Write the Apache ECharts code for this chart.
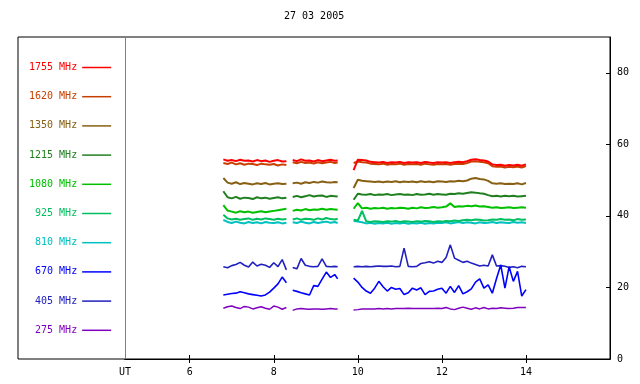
<!doctype html>
<html>
<head>
<meta charset="UTF-8">
<title>27 03 2005</title>
<script src="https://cdn.jsdelivr.net/npm/echarts@6.0.0/dist/echarts.min.js"></script>
<style>
html,body{margin:0;padding:0;background:#fff;}
#main{width:640px;height:384px;}
</style>
</head>
<body>
<div id="main"></div>
<script>
// UT hours; 8.38 and 9.7 are the gaps between the three runs
var hours = [6.8,6.9,7.0,7.1,7.2,7.3,7.4,7.5,7.6,7.7,7.8,7.9,8.0,8.1,8.2,8.3,
  8.38,
  8.45,8.55,8.65,8.75,8.85,8.95,9.05,9.15,9.25,9.35,9.45,9.52,
  9.7,
  9.9,10.0,10.1,10.2,10.3,10.4,10.5,10.6,10.7,10.8,10.9,11.0,11.1,11.2,11.3,11.4,11.5,11.6,11.7,11.8,11.9,
  12.0,12.1,12.2,12.3,12.4,12.5,12.6,12.7,12.8,12.9,13.0,13.1,13.2,13.3,13.4,13.5,13.6,13.7,13.8,13.9,14.0];

var freqNames = ['1755 MHz','1620 MHz','1350 MHz','1215 MHz','1080 MHz','925 MHz','810 MHz','670 MHz','405 MHz','275 MHz'];

var f1755 = [55.8,55.4,55.6,55.3,55.7,55.4,55.5,55.2,55.6,55.3,55.5,55.1,55.4,55.6,55.2,55.3, null,
  55.6,55.3,55.8,55.4,55.5,55.2,55.6,55.3,55.5,55.7,55.4,55.5, null,
  52.8,55.7,55.6,55.5,55.1,55.0,54.9,55.1,54.8,55.0,54.9,55.1,54.8,55.0,54.9,55.0,54.8,55.1,54.9,54.8,
  55.0,54.9,55.0,54.8,55.0,55.1,55.0,55.3,55.7,55.8,55.6,55.5,55.2,54.4,54.2,54.3,54.0,54.2,54.1,54.3,54.0,54.4];
var f1620 = [54.8,54.5,54.9,54.4,54.7,54.3,54.6,54.5,54.2,54.6,54.4,54.3,54.5,54.1,54.4,54.2, null,
  55.0,54.7,55.1,54.8,54.9,54.6,55.0,54.7,54.9,55.1,54.8,54.9, null,
  54.8,55.2,55.0,54.9,54.6,54.5,54.4,54.6,54.3,54.5,54.4,54.6,54.3,54.5,54.4,54.5,54.3,54.6,54.4,54.3,
  54.5,54.4,54.5,54.3,54.5,54.6,54.5,54.8,55.2,55.3,55.1,55.0,54.7,53.9,53.7,53.8,53.5,53.7,53.6,53.8,53.5,53.9];
var f1350 = [50.6,49.3,49.0,49.4,48.9,49.2,49.0,48.8,49.1,48.9,49.2,48.8,49.0,49.1,48.9,49.0, null,
  49.1,49.3,49.0,49.4,49.2,49.5,49.3,49.6,49.4,49.3,49.5,49.4, null,
  47.8,50.1,49.8,49.7,49.6,49.5,49.6,49.4,49.6,49.5,49.7,49.4,49.6,49.5,49.6,49.4,49.7,49.5,49.6,49.4,
  49.7,49.6,49.5,49.7,49.6,49.8,49.7,49.9,50.4,50.6,50.3,50.2,49.8,49.1,49.0,49.1,48.9,49.0,48.9,49.1,48.8,49.2];
var f1215 = [46.9,45.2,44.9,45.3,44.8,45.1,45.0,44.7,45.2,44.9,45.1,44.8,45.0,45.2,44.9,45.1, null,
  45.3,45.6,45.2,45.5,45.8,45.4,45.6,45.7,45.3,45.6,45.5,45.4, null,
  44.5,46.2,46.0,45.9,46.1,45.8,46.0,45.9,46.1,45.8,46.0,46.1,45.9,46.0,45.8,46.1,45.9,46.0,46.2,45.9,
  46.1,46.0,45.9,46.2,46.1,46.3,46.2,46.4,46.6,46.5,46.3,46.2,45.8,45.5,45.6,45.4,45.6,45.5,45.6,45.4,45.5,45.6];
var f1080 = [43.0,41.5,41.2,40.9,41.3,41.0,41.2,40.9,41.1,41.3,41.0,41.2,41.4,41.6,41.8,42.0, null,
  41.4,41.7,41.5,41.9,41.6,41.8,41.7,42.0,41.7,41.9,41.8,41.7, null,
  42.0,43.6,42.1,42.3,42.0,42.2,42.1,42.3,42.0,42.2,42.1,42.3,42.2,42.0,42.3,42.1,42.4,42.2,42.3,42.5,
  42.3,42.4,42.6,43.5,42.5,42.7,42.6,42.8,42.7,42.9,42.6,42.7,42.5,42.3,42.4,42.2,42.3,42.4,42.2,42.3,42.4,42.3];
var f925 = [40.3,39.3,39.0,39.2,38.9,39.1,39.3,38.9,39.2,39.0,39.3,39.1,38.9,39.2,39.0,39.1, null,
  39.0,39.3,38.9,39.2,39.1,38.9,39.3,39.0,39.4,39.1,39.0,39.2, null,
  38.9,38.7,41.4,38.5,38.3,38.5,38.4,38.3,38.5,38.4,38.6,38.3,38.5,38.4,38.3,38.5,38.4,38.6,38.5,38.3,
  38.5,38.4,38.6,38.5,38.7,38.6,38.8,38.9,38.8,39.0,38.9,38.7,38.8,39.0,38.9,39.1,38.9,39.0,38.8,39.1,38.9,39.0];
var f810 = [38.9,38.3,38.0,38.4,38.1,37.9,38.3,38.0,38.2,37.9,38.3,38.1,38.0,38.2,37.9,38.1, null,
  38.2,38.0,38.4,38.1,37.9,38.3,38.0,38.2,38.4,38.1,38.3,38.0, null,
  38.6,38.4,38.2,37.9,38.1,37.8,38.0,37.9,38.1,37.8,38.0,37.9,38.1,37.8,38.0,37.9,38.1,37.8,38.0,37.9,
  38.1,38.0,38.2,37.9,38.1,38.3,38.0,38.2,38.1,37.9,38.2,38.0,38.1,38.3,38.0,38.2,38.1,38.0,38.3,38.1,38.2,38.0];
var f670 = [17.9,18.1,18.3,18.4,18.8,18.5,18.2,18.0,17.8,17.6,17.9,18.7,19.8,21.0,22.9,21.3, null,
  19.2,18.9,18.5,18.2,17.9,20.5,20.3,22.3,24.3,22.8,23.6,22.4, null,
  22.6,21.5,20.0,19.0,18.4,19.8,21.7,20.2,19.0,20.0,19.5,19.7,18.0,18.5,19.8,19.3,19.9,18.0,18.9,19.0,
  19.5,19.8,18.4,20.3,18.6,20.5,18.2,18.8,19.6,21.5,22.4,19.8,20.7,18.4,22.5,26.3,19.8,25.8,21.7,24.5,17.6,19.4];
var f405 = [25.8,25.5,26.1,26.4,27.0,26.2,25.7,27.1,26.0,26.5,26.2,25.6,26.9,25.8,27.8,24.9, null,
  25.6,25.2,28.1,26.2,25.9,25.8,25.9,28.0,25.9,25.8,25.9,25.8, null,
  25.8,25.9,25.8,25.9,25.8,25.9,26.0,25.9,25.9,26.0,25.8,25.9,31.0,25.9,25.8,25.9,26.7,26.9,27.2,26.8,
  27.3,27.0,28.4,31.9,28.2,27.6,27.0,27.3,26.8,26.4,26.0,26.2,26.0,29.1,26.0,26.1,25.9,25.6,25.8,25.5,25.9,25.8];
var f275 = [14.2,14.6,14.8,14.4,14.1,14.7,14.5,14.0,14.3,14.6,14.2,13.9,14.8,14.5,13.9,14.4, null,
  13.6,14.0,14.1,14.0,13.9,14.0,14.0,13.9,14.0,14.1,14.0,14.0, null,
  13.7,13.8,14.0,14.0,14.0,14.0,14.1,14.0,14.1,14.0,14.1,14.1,14.1,14.2,14.1,14.1,14.1,14.1,14.1,14.1,
  14.2,14.1,14.4,14.0,13.8,14.2,14.5,14.2,13.9,14.3,14.0,14.4,14.0,14.2,14.1,14.3,14.2,14.1,14.2,14.4,14.4,14.4];

var yTicks = [0, 20, 40, 60, 80];
var xTicks = [6, 8, 10, 12, 14];

var allVals = [f1755, f1620, f1350, f1215, f1080, f925, f810, f670, f405, f275];
var colors = ['#ff0000','#c84000','#876014','#208020','#00c000','#00bf60','#00c0c0','#0000ff','#2020c0','#8000c0'];
var widths = [2, 2, 2, 2, 2, 2, 2, 1.6, 1.6, 1.5];
var mono = 'DejaVu Sans Mono';
var utStart = 4.46;

var series = [];
// draw lowest frequency first so 1755 sits on top
for (var k = allVals.length - 1; k >= 0; k--) {
  var vals = allVals[k];
  series.push({
    name: freqNames[k],
    type: 'line',
    symbol: 'none',
    showSymbol: false,
    xAxisIndex: 0,
    yAxisIndex: 0,
    color: colors[k],
    lineStyle: { width: widths[k], color: colors[k] },
    data: hours.map(function (h, i) { return [h, vals[i] == null ? '-' : vals[i]]; })
  });
}

var myChart = echarts.init(document.getElementById('main'));
var option = {
  animation: false,
  backgroundColor: '#fff',
  title: {
    text: '27 03 2005',
    left: 284, top: 11, padding: 0,
    textStyle: { fontFamily: mono, fontSize: 10, fontWeight: 'normal', color: '#000' }
  },
  legend: {
    orient: 'vertical',
    left: 29, top: 53, padding: 0,
    align: 'right',
    selectedMode: false,
    icon: 'rect',
    itemWidth: 29, itemHeight: 1.5, itemGap: 0.2,
    formatter: function (n) { return n.padStart(8); },
    textStyle: { fontFamily: mono, fontSize: 10, lineHeight: 29 },
    data: freqNames.map(function (n, i) { return { name: n, textStyle: { color: colors[i] } }; })
  },
  grid: [
    { left: 125, right: 30, top: 37, bottom: 25, show: false },
    { left: 18, right: 30, top: 37, bottom: 25, show: true, borderColor: '#000', borderWidth: 1, backgroundColor: 'transparent' }
  ],
  xAxis: [
    {
      type: 'value', gridIndex: 0, min: utStart, max: 16, position: 'bottom',
      axisLine: { lineStyle: { color: '#000' } },
      axisTick: { inside: true, length: 4, customValues: xTicks, lineStyle: { color: '#000' } },
      axisLabel: {
        customValues: [utStart].concat(xTicks), margin: 8,
        fontFamily: mono, fontSize: 10, color: '#000',
        formatter: function (v) { return v < 5 ? 'UT' : String(v); }
      },
      splitLine: { show: false }
    },
    {
      type: 'value', gridIndex: 0, min: utStart, max: 16, position: 'top',
      axisLine: { lineStyle: { color: '#000' } },
      axisTick: { inside: true, length: 4, customValues: xTicks, lineStyle: { color: '#000' } },
      axisLabel: { show: false },
      splitLine: { show: false }
    },
    { type: 'value', gridIndex: 1, show: false, min: 0, max: 1 }
  ],
  yAxis: [
    {
      type: 'value', gridIndex: 0, min: 0, max: 90, position: 'right',
      axisLine: { show: true, lineStyle: { color: '#000' } },
      axisTick: { show: true, inside: true, length: 4, customValues: yTicks, lineStyle: { color: '#000' } },
      axisLabel: { customValues: yTicks, margin: 7, fontFamily: mono, fontSize: 10, color: '#000' },
      splitLine: { show: false }
    },
    {
      type: 'value', gridIndex: 0, min: 0, max: 90, position: 'left',
      axisLine: { show: true, lineStyle: { color: '#808080' } },
      axisTick: { show: false },
      axisLabel: { show: false },
      splitLine: { show: false }
    },
    { type: 'value', gridIndex: 1, show: false, min: 0, max: 1 }
  ],
  series: series
};
myChart.setOption(option);
</script>
</body>
</html>
